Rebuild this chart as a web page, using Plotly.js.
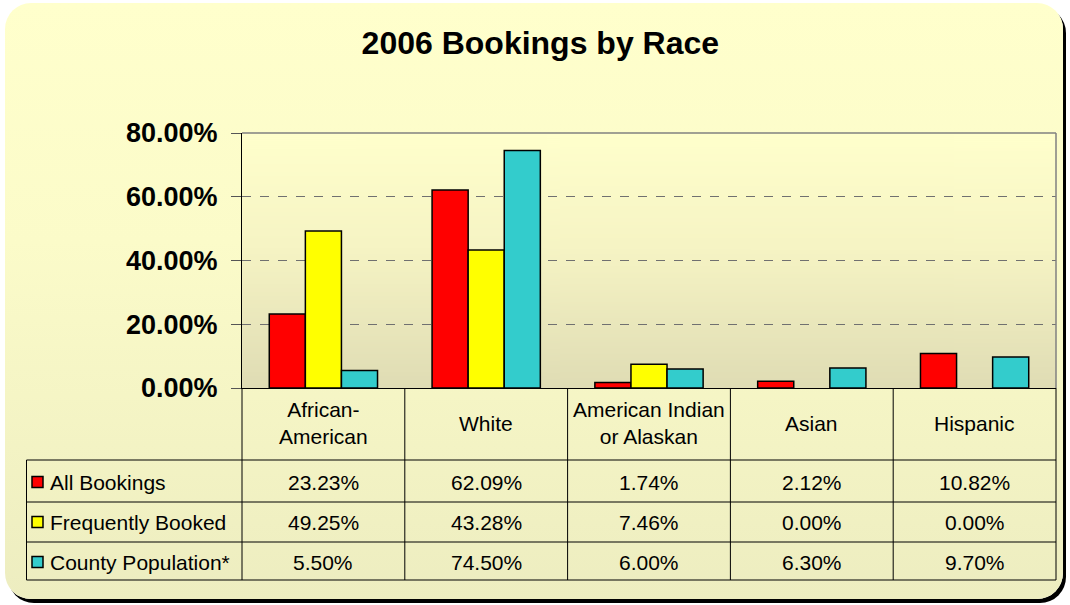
<!DOCTYPE html>
<html>
<head>
<meta charset="utf-8">
<script src="https://cdn.plot.ly/plotly-3.0.1.min.js"></script>
<style>
  html, body { margin:0; padding:0; background:#ffffff; }
  #frame { position:absolute; left:5px; top:3px; width:1058px; height:596px;
           border-radius:26px; background:linear-gradient(#FFFFCC 0%, #FBFBC9 40%, #EDEDC0 100%);
           box-shadow:3px 4px 0 #000; }
  #chart { position:absolute; left:0; top:0; width:1070px; height:605px; }
</style>
</head>
<body>
<div id="frame"></div>
<div id="chart"></div>
<script>
// ---- data ----
const categories = ["African-American", "White", "American Indian or Alaskan", "Asian", "Hispanic"];
const categoryLabels = ["African-<br>American", "White", "American Indian<br>or Alaskan", "Asian", "Hispanic"];
const seriesNames = ["All Bookings", "Frequently Booked", "County Population*"];
const allBookings = [23.23, 62.09, 1.74, 2.12, 10.82];
const frequentlyBooked = [49.25, 43.28, 7.46, 0.00, 0.00];
const countyPopulation = [5.50, 74.50, 6.00, 6.30, 9.70];
const seriesColors = ["#FF0000", "#FFFF00", "#33CCCC"];
const yTickValues = [0, 20, 40, 60, 80];
const yTickLabels = ["0.00%", "20.00%", "40.00%", "60.00%", "80.00%"];

// ---- geometry helpers (pixel -> paper) ----
const W = 1070, H = 605;
const L = 242, R = 1056, T = 133, B = 388;
const px2x = p => (p - L) / (R - L);
const py2y = p => (B - p) / (B - T);
const FONT = 'Liberation Sans, Arial, sans-serif';

// plot-area gradient as an image
const cv = document.createElement('canvas');
cv.width = 4; cv.height = 256;
const ctx = cv.getContext('2d');
const g = ctx.createLinearGradient(0, 0, 0, 256);
g.addColorStop(0, '#FFFFCC');
g.addColorStop(0.45, '#F6F4C4');
g.addColorStop(1, '#DFDCB4');
ctx.fillStyle = g; ctx.fillRect(0, 0, 4, 256);
const gradURL = cv.toDataURL();

const allSeries = [allBookings, frequentlyBooked, countyPopulation];
const traces = allSeries.map((vals, i) => ({
  type: 'bar',
  name: seriesNames[i],
  x: categories,
  y: vals,
  marker: { color: seriesColors[i], line: { color: '#000', width: vals.map(v => v === 0 ? 0 : 1.5) } },
  hoverinfo: 'x+y+name'
}));

const shapes = [];
const annotations = [];
const lineStyle = { color: '#000', width: 1 };

// plot border (top & right, gray)
shapes.push({ type: 'line', xref: 'paper', yref: 'paper', x0: 0, x1: 1, y0: 1, y1: 1, line: { color: '#808080', width: 1.5 } });
shapes.push({ type: 'line', xref: 'paper', yref: 'paper', x0: 1, x1: 1, y0: 0, y1: 1, line: { color: '#808080', width: 1.5 } });

// table rows
const rowLines = [460, 502, 542, 580];
rowLines.forEach(py => shapes.push({ type: 'line', xref: 'paper', yref: 'paper',
  x0: px2x(26.5), x1: 1, y0: py2y(py), y1: py2y(py), line: lineStyle }));
// table columns (category boundaries)
for (let i = 0; i <= categories.length; i++) {
  const xp = i / categories.length;
  shapes.push({ type: 'line', xref: 'paper', yref: 'paper', x0: xp, x1: xp,
    y0: 0, y1: py2y(580), line: lineStyle });
}
shapes.push({ type: 'line', xref: 'paper', yref: 'paper', x0: px2x(26.5), x1: px2x(26.5),
  y0: py2y(460), y1: py2y(580), line: lineStyle });

// category labels
categoryLabels.forEach((lab, i) => annotations.push({
  xref: 'x', yref: 'paper', x: categories[i], y: py2y(423), text: lab,
  showarrow: false, xanchor: 'center', yanchor: 'middle',
  font: { family: FONT, size: 21, color: '#000' }
}));

// table values & legend keys
const rowCenters = [482, 522, 562];
allSeries.forEach((vals, s) => {
  vals.forEach((v, i) => annotations.push({
    xref: 'x', yref: 'paper', x: categories[i], y: py2y(rowCenters[s]),
    text: v.toFixed(2) + '%', showarrow: false, xanchor: 'center', yanchor: 'middle',
    font: { family: FONT, size: 21, color: '#000' }
  }));
  annotations.push({
    xref: 'paper', yref: 'paper', x: px2x(48), y: py2y(rowCenters[s]),
    text: seriesNames[s], showarrow: false, xanchor: 'left', yanchor: 'middle',
    font: { family: FONT, size: 21, color: '#000' }
  });
  shapes.push({ type: 'rect', xref: 'paper', yref: 'paper',
    x0: px2x(32), x1: px2x(43), y0: py2y(rowCenters[s] - 5.5), y1: py2y(rowCenters[s] + 5.5),
    fillcolor: seriesColors[s], line: { color: '#000', width: 1.5 } });
});

const layout = {
  width: W, height: H,
  paper_bgcolor: 'rgba(0,0,0,0)',
  plot_bgcolor: 'rgba(0,0,0,0)',
  margin: { l: L, r: W - R, t: T, b: H - B, pad: 0 },
  showlegend: false,
  barmode: 'group',
  bargap: 0.335,
  bargroupgap: 0,
  title: {
    text: '<b>2006 Bookings by Race</b>',
    font: { family: FONT, size: 32, color: '#000' },
    x: 0.505, xref: 'container', xanchor: 'center',
    y: 1 - 43 / H, yref: 'container', yanchor: 'middle'
  },
  xaxis: {
    type: 'category', range: [-0.5, 4.5],
    showticklabels: false, ticks: '', showgrid: false, zeroline: false,
    showline: true, linecolor: '#000', linewidth: 1, fixedrange: true
  },
  yaxis: {
    range: [0, 80], tickmode: 'array', tickvals: yTickValues, ticktext: yTickLabels,
    ticks: 'outside', ticklen: 10, tickcolor: '#555', tickwidth: 1,
    showline: true, linecolor: '#000', linewidth: 1,
    showgrid: true, gridcolor: '#707070', griddash: 'dash', gridwidth: 1,
    zeroline: false, ticklabelstandoff: 8,
    tickfont: { family: FONT, size: 27, color: '#000', weight: 'bold' },
    fixedrange: true
  },
  images: [{ source: gradURL, xref: 'paper', yref: 'paper', x: 0, y: 1, sizex: 1, sizey: 1,
             xanchor: 'left', yanchor: 'top', sizing: 'stretch', layer: 'below' }],
  shapes: shapes,
  annotations: annotations
};

Plotly.newPlot('chart', traces, layout, { displayModeBar: false, staticPlot: true });
</script>
</body>
</html>
